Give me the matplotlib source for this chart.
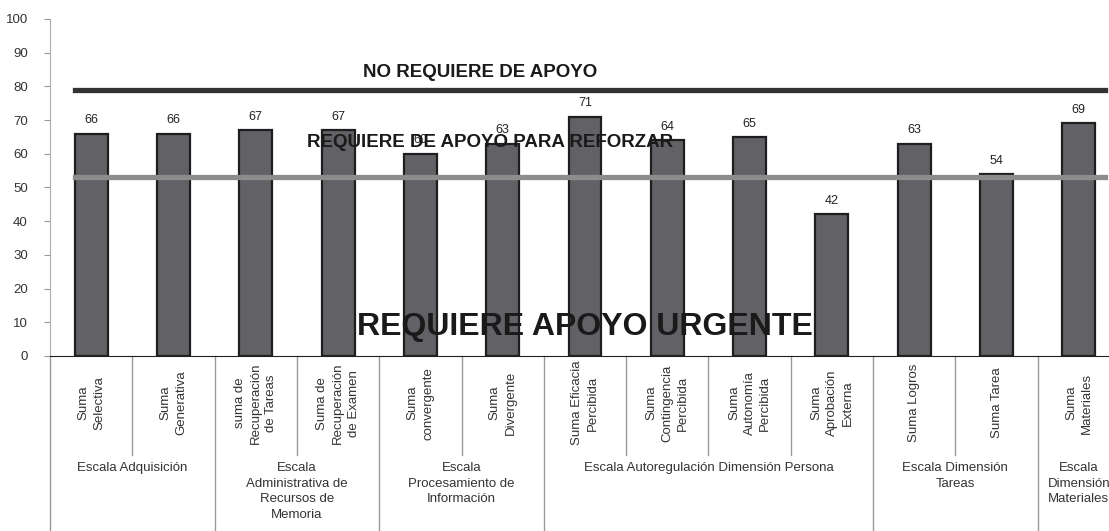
import matplotlib

matplotlib.use("Agg")
import matplotlib.pyplot as plt
import matplotlib.transforms as mtransforms

plt.rcParams["font.family"] = ["Liberation Sans", "DejaVu Sans"]

# --- data -------------------------------------------------------------------
categories = [
    "Suma\nSelectiva", "Suma\nGenerativa",
    "suma de\nRecuperación\nde Tareas", "Suma de\nRecuperación\nde Examen",
    "Suma\nconvergente", "Suma\nDivergente",
    "Suma Eficacia\nPercibida", "Suma\nContingencia\nPercibida",
    "Suma\nAutonomía\nPercibida", "Suma\nAprobación\nExterna",
    "Suma Logros", "Suma Tarea", "Suma\nMateriales",
]
values = [66, 66, 67, 67, 60, 63, 71, 64, 65, 42, 63, 54, 69]

groups = [
    "Escala Adquisición",
    "Escala\nAdministrativa de\nRecursos de\nMemoria",
    "Escala\nProcesamiento de\nInformación",
    "Escala Autoregulación Dimensión Persona",
    "Escala Dimensión\nTareas",
    "Escala\nDimensión\nMateriales",
]
group_sizes = [2, 2, 2, 4, 2, 1]

upper_limit = 79   # NO REQUIERE DE APOYO
lower_limit = 53   # REQUIERE DE APOYO PARA REFORZAR

# --- figure -------------------------------------------------------------------
fig = plt.figure(figsize=(11.09, 5.31), dpi=100)
ax = fig.add_axes([0.0451, 0.3296, 0.9648, 0.6347])

x = list(range(len(values)))
ax.bar(x, values, width=0.4, color="#626266", edgecolor="#1e1e1e",
       linewidth=1.6, zorder=2)
for xi, v in zip(x, values):
    ax.text(xi, v + 2.2, str(v), ha="center", va="bottom", fontsize=9,
            color="#222222", zorder=4)

ax.axhline(upper_limit, xmin=0.023, xmax=0.986, color="#333333", lw=3.8,
           zorder=3)
ax.axhline(lower_limit, xmin=0.023, xmax=0.986, color="#8c8c8c", lw=3.8,
           zorder=3)

ax.text(4.72, 84, "NO REQUIERE DE APOYO", ha="center", va="center",
        fontsize=13.5, fontweight="bold", color="#1a1a1a")
ax.text(4.85, 63.3, "REQUIERE DE APOYO PARA REFORZAR", ha="center",
        va="center", fontsize=13.5, fontweight="bold", color="#1a1a1a",
        zorder=5)
ax.text(6.0, 8.7, "REQUIERE APOYO URGENTE", ha="center", va="center",
        fontsize=23, fontweight="bold", color="#1a1a1a", zorder=5)

ax.set_xlim(-0.5, len(values) - 0.5)
ax.set_ylim(0, 100)
ax.set_yticks(range(0, 101, 10))
ax.tick_params(axis="y", length=4, width=0.8, color="#999999",
               labelsize=9.5, labelcolor="#333333", pad=12)
ax.set_xticks([])
for s in ("top", "right"):
    ax.spines[s].set_visible(False)
ax.spines["left"].set_color("#aaaaaa")
ax.spines["left"].set_bounds(0, 100)
ax.spines["bottom"].set_color("#222222")

# --- category and group labels below the axis --------------------------------
trans = mtransforms.blended_transform_factory(ax.transData, ax.transAxes)
for xi, lab in zip(x, categories):
    ax.text(xi, -0.14, lab, rotation=90, ha="center", va="center",
            multialignment="center", fontsize=9.5, color="#333333",
            transform=trans, clip_on=False, linespacing=1.4)

# separators: short between categories, long between groups
bounds = [0]
for n in group_sizes:
    bounds.append(bounds[-1] + n)
for k in range(len(values) + 1):
    edge = k - 0.5
    long = k in bounds
    ax.plot([edge, edge], [0, -0.52 if long else -0.295], transform=trans,
            color="#999999", lw=1, clip_on=False)

for g, start, n in zip(groups, bounds[:-1], group_sizes):
    centre = start + (n - 1) / 2
    ax.text(centre, -0.315, g, ha="center", va="top", fontsize=9.5,
            color="#333333", transform=trans, clip_on=False, linespacing=1.4)

fig.savefig("out.png", dpi=100)
